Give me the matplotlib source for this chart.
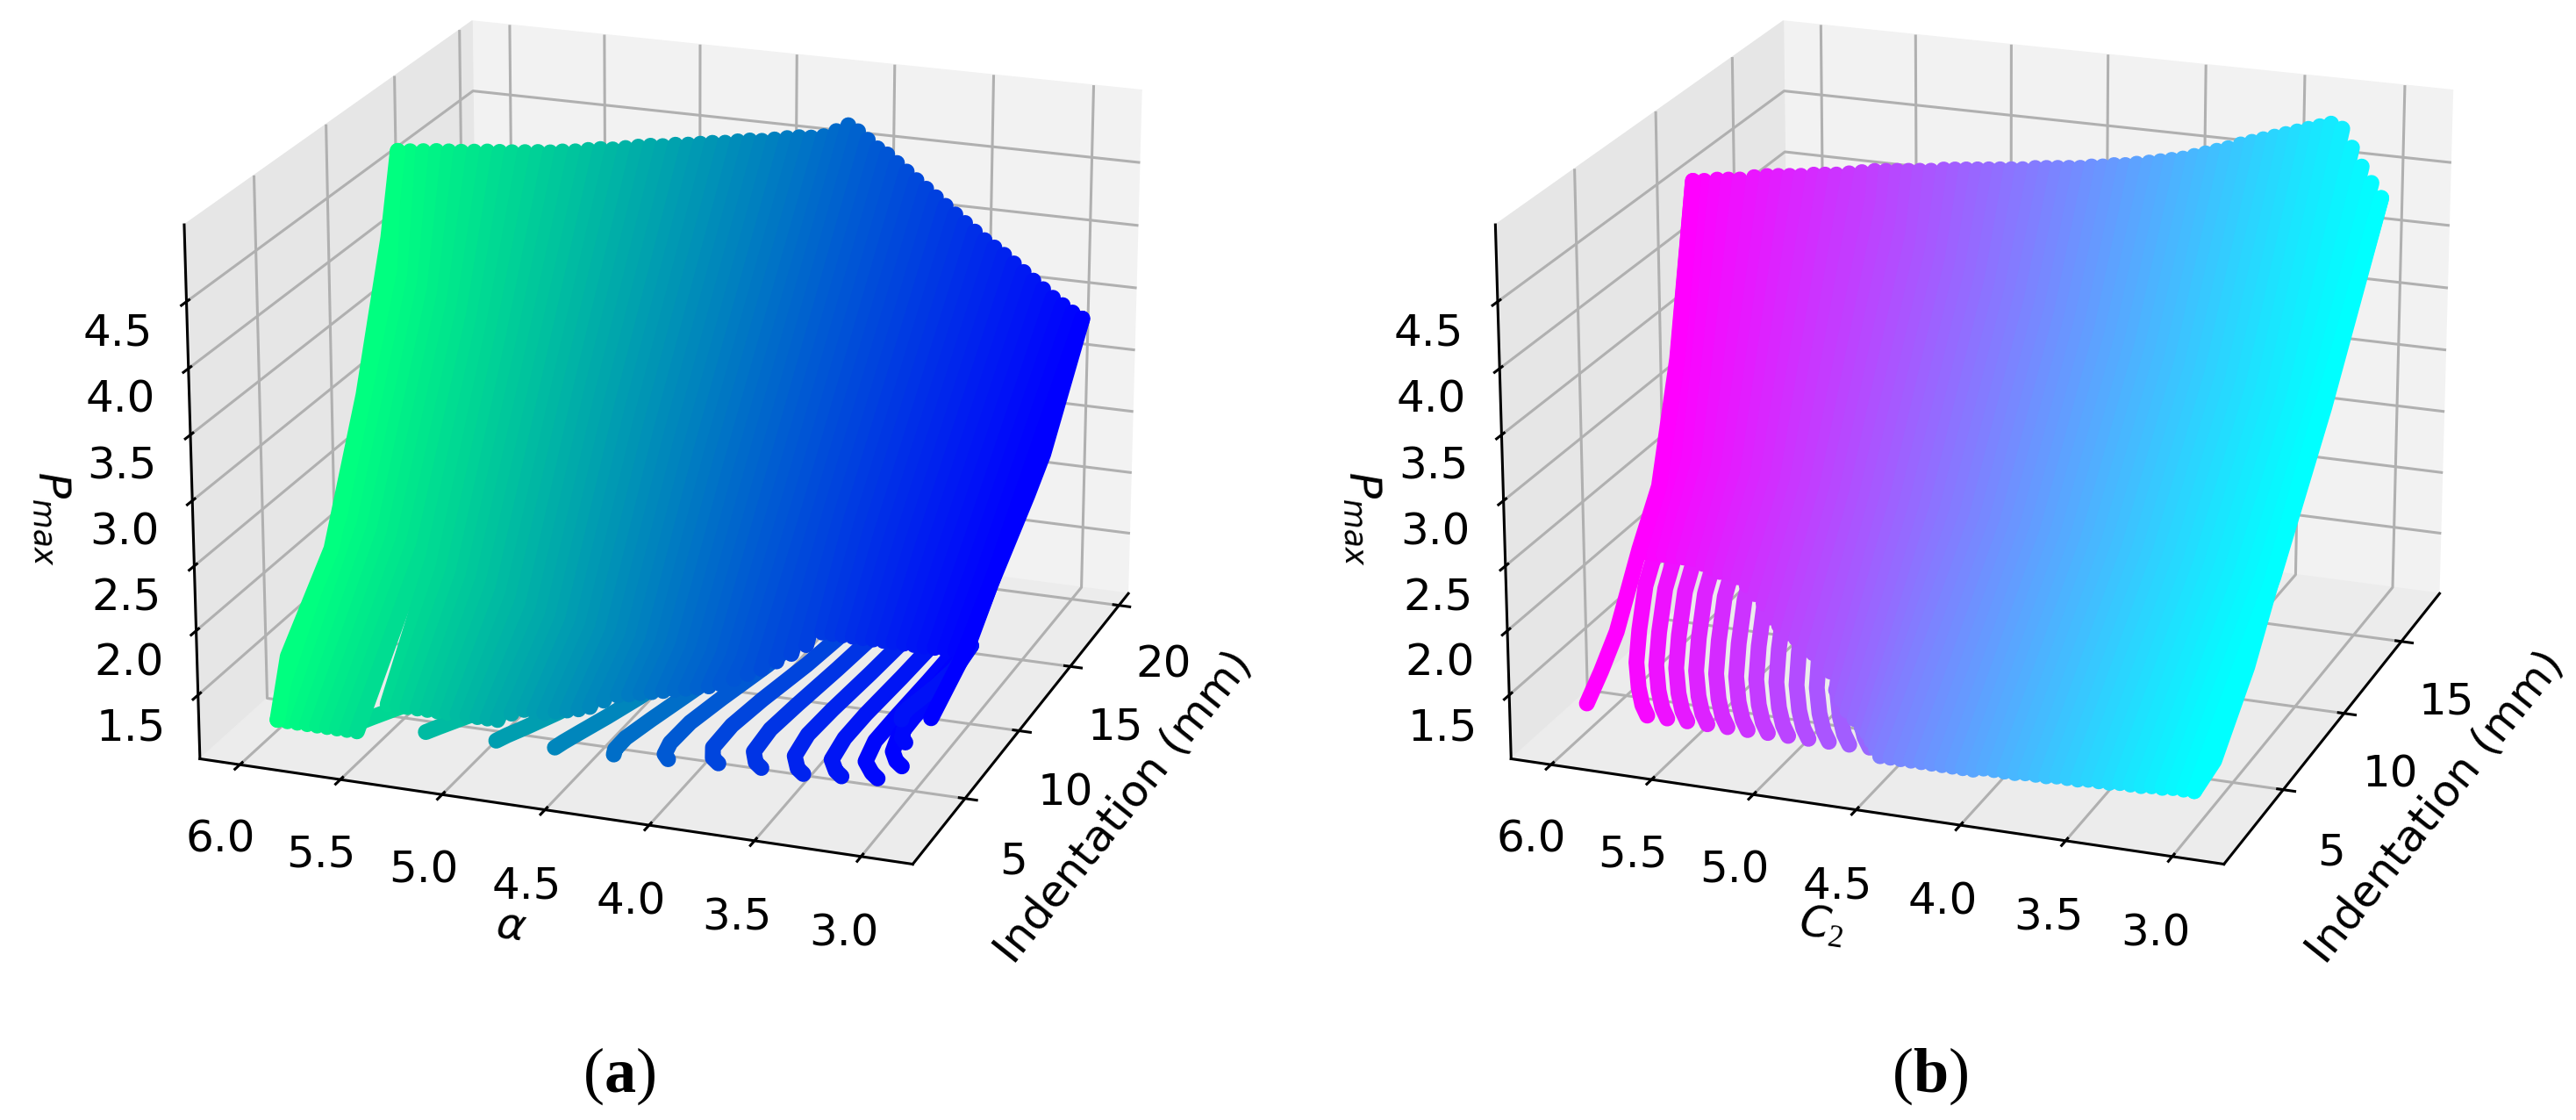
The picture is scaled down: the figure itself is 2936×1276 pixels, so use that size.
import numpy as np
import matplotlib
matplotlib.use('Agg')
import matplotlib.pyplot as plt
from mpl_toolkits.mplot3d import Axes3D

nan = np.nan

# strands, alpha / C2 from 6.0 down to 3.0
strand_vals = [6.0, 5.95, 5.9, 5.85, 5.8, 5.75, 5.7, 5.65, 5.6, 5.55,
               5.5, 5.45, 5.4, 5.35, 5.3, 5.25, 5.2, 5.15, 5.1, 5.05,
               5.0, 4.95, 4.9, 4.85, 4.8, 4.75, 4.7, 4.65, 4.6, 4.55,
               4.5, 4.45, 4.4, 4.35, 4.3, 4.25, 4.2, 4.15, 4.1, 4.05,
               4.0, 3.95, 3.9, 3.85, 3.8, 3.75, 3.7, 3.65, 3.6, 3.55,
               3.5, 3.45, 3.4, 3.35, 3.3, 3.25, 3.2, 3.15, 3.1, 3.05,
               3.0]
mid_x = [8, 12]

# panel a
low_x_a = [3, 3, 3, 3, 3, 3, 3, 3, 3, 4.5,
           4.5, 4.5, 4.5, 4.5, 4.5, 4.5, 4.5, 4.5, 4.5, 4.5,
           4.5, 4.8, 5, 5, 5, 5.1, 5.2, 5.3, 5.4, 5.7,
           6, 6.1, 6.2, 6.3, 6.4, 6.5, 6.6, 6.7, 6.8, 6.9,
           7.2, 7.5, 7.8, 8.2, 8.6, 9, 9.5, 9.5, 9.5, 9.5,
           9.5, 9.5, 9.5, 9.5, 9.5, 9.5, 9.5, 9.5, 9.5, 9.5,
           9.5]
low_p_a = [1.08, 1.08, 1.08, 1.08, 1.08, 1.08, 1.08, 1.08, 1.08, 1.15,
           1.15, 1.15, 1.15, 1.15, 1.15, 1.15, 1.15, 1.15, 1.15, 1.15,
           1.15, 1.18, 1.2, 1.2, 1.2, 1.21, 1.22, 1.23, 1.25, 1.28,
           1.3, 1.31, 1.32, 1.33, 1.34, 1.35, 1.36, 1.37, 1.38, 1.40,
           1.42, 1.44, 1.46, 1.49, 1.52, 1.56, 1.62, 1.62, 1.62, 1.62,
           1.62, 1.62, 1.62, 1.62, 1.62, 1.62, 1.62, 1.62, 1.62, 1.62,
           1.62]
p8_a = [2.20, 2.18, 2.16, 2.14, 2.12, 2.10, 2.08, 2.06, 2.04, 1.97,
        1.90, 1.88, 1.87, 1.85, 1.84, 1.81, 1.78, 1.75, 1.72, 1.68,
        1.65, 1.63, 1.62, 1.61, 1.60, 1.59, 1.58, 1.57, 1.56, 1.55,
        1.55, 1.54, 1.54, 1.53, 1.53, 1.52, 1.52, 1.51, 1.51, 1.50,
        1.50, 1.50, 1.50, nan, nan, nan, nan, nan, nan, nan,
        nan, nan, nan, nan, nan, nan, nan, nan, nan, nan,
        nan]
p12_a = [3.85, 3.81, 3.77, 3.73, 3.69, 3.65, 3.61, 3.57, 3.53, 3.49,
         3.45, 3.41, 3.37, 3.33, 3.29, 3.25, 3.21, 3.17, 3.13, 3.09,
         3.05, 3.01, 2.98, 2.94, 2.91, 2.87, 2.84, 2.80, 2.77, 2.73,
         2.70, 2.67, 2.65, 2.62, 2.59, 2.56, 2.53, 2.50, 2.48, 2.45,
         2.42, 2.40, 2.37, 2.35, 2.33, 2.30, 2.28, 2.25, 2.23, 2.20,
         2.18, 2.16, 2.14, 2.12, 2.10, 2.07, 2.05, 2.02, 2.00, 1.98,
         1.96]
top_x_a = [12.3, 12.5, 12.75, 13, 13.2, 13.4, 13.65, 13.9, 14.1, 14.3,
           14.55, 14.8, 15, 15.2, 15.45, 15.7, 15.9, 16.1, 16.35, 16.6,
           16.8, 17, 17.25, 17.5, 17.7, 17.9, 18.15, 18.4, 18.6, 18.8,
           19.05, 19.3, 19.5, 19.7, 19.95, 20.2, 20.4, 20.4, 20.4, 20.4,
           20.4, 20.4, 20.4, 20.4, 20.4, 20.4, 20.4, 20.4, 20.4, 20.4,
           20.4, 20.4, 20.4, 20.4, 20.4, 20.4, 20.4, 20.4, 20.4, 20.4,
           20.4]
top_p_a = [4.72, 4.71, 4.70, 4.69, 4.68, 4.67, 4.66, 4.65, 4.64, 4.63,
           4.62, 4.61, 4.60, 4.60, 4.59, 4.59, 4.59, 4.58, 4.58, 4.58,
           4.58, 4.57, 4.57, 4.56, 4.56, 4.56, 4.55, 4.55, 4.55, 4.54,
           4.54, 4.54, 4.54, 4.53, 4.53, 4.56, 4.60, 4.56, 4.50, 4.44,
           4.40, 4.34, 4.28, 4.22, 4.16, 4.10, 4.04, 3.98, 3.92, 3.86,
           3.80, 3.75, 3.70, 3.64, 3.58, 3.52, 3.46, 3.40, 3.35, 3.30,
           3.26]
left_x_a = [3, 3.8, 7, 9.5, 11.5, 12.3]
left_p_a = [1.08, 1.5, 2.04, 3.03, 4.1, 4.72]
right_x_a = [6.4, 9.2, 11.7, 15.2, 16.7, 20.4]
right_p_a = [1.42, 1.61, 1.92, 2.31, 2.5, 3.26]

finger_p_a = [1.25, 1.28, 1.32, 1.37, 1.43, 1.52, 1.62]
finger_c_a = [5.53, 5.2, 4.86, 4.58, 4.3, 4.05, 3.82, 3.62, 3.42, 3.25, 3.09, 3.03, 3.1, 3.2]
finger_y_a = [[5.53, 5.48, 5.4, 5.28, 5.16, 5.03, 4.93],
              [5.2, 5.15, 5.07, 4.95, 4.83, 4.7, 4.6],
              [4.86, 4.82, 4.75, 4.65, 4.54, 4.42, 4.32],
              [4.58, 4.55, 4.5, 4.42, 4.33, 4.22, 4.12],
              [4.3, 4.3, 4.28, 4.22, 4.14, 4.03, 3.93],
              [4.05, 4.07, 4.07, 4.04, 3.97, 3.86, 3.76],
              [3.82, 3.85, 3.87, 3.85, 3.79, 3.69, 3.6],
              [3.62, 3.65, 3.68, 3.67, 3.62, 3.54, 3.46],
              [3.42, 3.45, 3.49, 3.49, 3.45, 3.38, 3.31],
              [3.25, 3.28, 3.32, 3.32, 3.29, 3.23, 3.17],
              [3.09, 3.12, 3.17, 3.18, 3.15, 3.1, 3.05],
              [3.03, 3.06, 3.09, 3.1, 3.08, 3.05, 3.0],
              [3.1, 3.12, 3.12, 3.1, 3.07, 3.03, 3.0],
              [3.2, 3.2, 3.18, 3.14, 3.09, 3.03, 3.0]]
finger_x_a = [[2.2, 2.4, 2.8, 3.5, 4.4, 5.6, 7.2],
              [2.2, 2.4, 2.8, 3.5, 4.4, 5.6, 7.2],
              [2.3, 2.5, 2.9, 3.7, 4.7, 6, 7.8],
              [2.4, 2.6, 3, 3.9, 5, 6.5, 8.4],
              [2.5, 2.6, 3.1, 4.1, 5.4, 7, 9],
              [2.7, 2.75, 3.2, 4.3, 5.7, 7.6, 9.8],
              [2.9, 2.95, 3.3, 4.5, 6, 8, 10],
              [3, 3.05, 3.4, 4.6, 6, 8, 10],
              [3, 3.05, 3.5, 4.6, 6, 8, 10],
              [3.2, 3.25, 3.6, 4.7, 6, 8, 10],
              [3.4, 3.45, 3.8, 4.8, 6.2, 8, 10],
              [4.4, 4.45, 4.7, 5.4, 6.6, 8.2, 10],
              [6, 6.05, 6.2, 6.7, 7.5, 8.7, 10],
              [7.5, 7.55, 7.7, 8, 8.5, 9.2, 10]]

# panel b
low_x_b = [6.3, 6.3, 6.3, 6.3, 6.3, 6.3, 6.3, 6.2, 6.1, 6.1,
           6, 5.9, 5.8, 5.7, 5.5, 5.4, 5.3, 5.2, 5.1, 5,
           4.9, 4.8, 4.5, 4.2, 3.9, 3.7, 3.5, 3.2, 2.8, 2.4,
           2, 2, 2, 2, 2, 2, 2, 2, 2, 2,
           2, 2, 2, 2, 2, 2, 2, 2, 2, 2,
           2, 2, 2, 2, 2, 2, 2, 2, 2, 2,
           2]
low_p_b = [2.0, 2.0, 2.0, 2.0, 2.0, 2.0, 1.97, 1.96, 1.95, 1.95,
           1.94, 1.9, 1.85, 1.8, 1.72, 1.68, 1.64, 1.62, 1.58, 1.55,
           1.5, 1.45, 1.35, 1.32, 1.28, 1.25, 1.22, 1.22, 1.22, 1.22,
           1.22, 1.22, 1.22, 1.22, 1.22, 1.22, 1.22, 1.22, 1.22, 1.22,
           1.24, 1.24, 1.24, 1.24, 1.25, 1.25, 1.25, 1.26, 1.26, 1.26,
           1.27, 1.27, 1.27, 1.28, 1.28, 1.28, 1.29, 1.29, 1.3, 1.3,
           1.3]
p8_b = [2.60, 2.59, 2.58, 2.57, 2.56, 2.55, 2.54, 2.54, 2.53, 2.53,
        2.52, 2.52, 2.51, 2.51, 2.50, 2.50, 2.49, 2.49, 2.48, 2.48,
        2.47, 2.47, 2.46, 2.46, 2.45, 2.45, 2.44, 2.44, 2.43, 2.43,
        2.42, 2.42, 2.41, 2.41, 2.40, 2.40, 2.39, 2.39, 2.38, 2.38,
        2.37, 2.37, 2.36, 2.36, 2.35, 2.34, 2.33, 2.33, 2.32, 2.32,
        2.31, 2.30, 2.29, 2.29, 2.28, 2.28, 2.27, 2.27, 2.26, 2.26,
        2.25]
p12_b = [nan, nan, nan, nan, nan, nan, nan, nan, nan, nan,
         nan, nan, nan, nan, nan, 4.4, 4.34, 4.27, 4.2, 4.12,
         4.05, 4.02, 3.99, 3.96, 3.93, 3.90, 3.87, 3.84, 3.81, 3.78,
         3.76, 3.73, 3.70, 3.67, 3.65, 3.62, 3.60, 3.57, 3.55, 3.52,
         3.50, 3.48, 3.46, 3.44, 3.42, 3.40, 3.38, 3.36, 3.34, 3.32,
         3.30, 3.28, 3.26, 3.24, 3.23, 3.21, 3.20, 3.18, 3.17, 3.16,
         3.15]
top_x_b = [9.8, 9.9, 10.1, 10.2, 10.3, 10.6, 10.8, 10.9, 11, 11.1,
           11.3, 11.4, 11.5, 11.7, 11.9, 12.1, 12.2, 12.3, 12.4, 12.5,
           12.6, 12.8, 12.9, 13, 13.1, 13.2, 13.3, 13.4, 13.5, 13.7,
           13.8, 13.9, 14, 14.1, 14.2, 14.3, 14.4, 14.5, 14.6, 14.8,
           14.9, 15, 15.1, 15.2, 15.3, 15.4, 15.5, 15.7, 15.8, 15.9,
           16, 16.1, 16.2, 16.3, 16.4, 16.5, 16.6, 16.6, 16.6, 16.6,
           16.6]
top_p_b = [4.58, 4.58, 4.58, 4.58, 4.58, 4.58, 4.58, 4.58, 4.58, 4.58,
           4.58, 4.58, 4.58, 4.58, 4.58, 4.58, 4.58, 4.58, 4.58, 4.58,
           4.58, 4.58, 4.58, 4.58, 4.58, 4.58, 4.58, 4.58, 4.58, 4.58,
           4.58, 4.58, 4.58, 4.58, 4.59, 4.59, 4.60, 4.60, 4.61, 4.61,
           4.62, 4.63, 4.64, 4.66, 4.68, 4.70, 4.72, 4.74, 4.76, 4.78,
           4.80, 4.82, 4.84, 4.86, 4.88, 4.90, 4.86, 4.72, 4.58, 4.46,
           4.35]
left_x_b = [2.6, 3.5, 4.5, 6.0, 7.3, 8.6, 9.8]
left_p_b = [1.22, 1.37, 1.57, 2.06, 2.42, 3.3, 4.58]
right_x_b = [2, 3.5, 6, 10, 13, 15, 16.6]
right_p_b = [1.3, 1.35, 1.78, 2.76, 3.45, 3.95, 4.35]

finger_p_b = [1.22, 1.27, 1.35, 1.48, 1.65, 1.9, 2.3, 2.8]
finger_x_b = [2.4, 2.6, 3.0, 3.5, 4.2, 5.0, 6.5, 7.8]
finger_c_b = [5.9, 5.8, 5.7, 5.6, 5.5, 5.4, 5.3, 5.2, 5.1, 5.0, 4.9, 4.8]
finger_y_b = [[5.68, 5.72, 5.77, 5.82, 5.86, 5.89, 5.9, 5.9],
              [5.58, 5.62, 5.67, 5.72, 5.76, 5.79, 5.8, 5.8],
              [5.48, 5.52, 5.57, 5.62, 5.66, 5.69, 5.7, 5.7],
              [5.38, 5.42, 5.47, 5.52, 5.56, 5.59, 5.6, 5.6],
              [5.28, 5.32, 5.37, 5.42, 5.46, 5.49, 5.5, 5.5],
              [5.18, 5.22, 5.27, 5.32, 5.36, 5.39, 5.4, 5.4],
              [5.08, 5.12, 5.17, 5.22, 5.26, 5.29, 5.3, 5.3],
              [4.98, 5.02, 5.07, 5.12, 5.16, 5.19, 5.2, 5.2],
              [4.88, 4.92, 4.97, 5.02, 5.06, 5.09, 5.1, 5.1],
              [4.78, 4.82, 4.87, 4.92, 4.96, 4.99, 5.0, 5.0],
              [4.68, 4.72, 4.77, 4.82, 4.86, 4.89, 4.9, 4.9],
              [4.58, 4.62, 4.67, 4.72, 4.76, 4.79, 4.8, 4.8]]

alpha_ticks = [3.0, 3.5, 4.0, 4.5, 5.0, 5.5, 6.0]
p_ticks = [1.5, 2.0, 2.5, 3.0, 3.5, 4.0, 4.5]

plt.rcParams['axes.linewidth'] = 2.2
plt.rcParams['grid.linewidth'] = 2.2
plt.rcParams['xtick.major.width'] = 2.2
plt.rcParams['ytick.major.width'] = 2.2
plt.rcParams['mathtext.fontset'] = 'custom'
plt.rcParams['mathtext.rm'] = 'Liberation Serif'
plt.rcParams['mathtext.bf'] = 'Liberation Serif:bold'
plt.rcParams['mathtext.it'] = 'DejaVu Sans:italic'

fig = plt.figure(figsize=(29.36, 12.76), dpi=100)


def draw_panel(rect, cmap, low_x, low_p, p8, p12, top_x, top_p, left, right,
               f_c, f_y, f_x, f_p, xlim, xticks, ylabel):
    ax = fig.add_axes(rect, projection='3d')
    ax.view_init(elev=20, azim=200)
    ax.set_box_aspect((4, 4, 3), zoom=1.02)
    ax.xaxis.set_pane_color((0.95, 0.95, 0.95, 1.0))
    ax.yaxis.set_pane_color((0.90, 0.90, 0.90, 1.0))
    ax.zaxis.set_pane_color((0.925, 0.925, 0.925, 1.0))
    colors = plt.get_cmap(cmap)
    for c, ys, xs in zip(f_c, f_y, f_x):
        ax.plot(xs, ys, f_p, color=colors((c - 3) / 3), lw=13,
                solid_capstyle='round', solid_joinstyle='round')
    for i, c in enumerate(strand_vals):
        xs = [low_x[i]] + list(mid_x) + [top_x[i]]
        ps = [low_p[i], p8[i], p12[i], top_p[i]]
        xs = [u for u, v in zip(xs, ps) if not np.isnan(v)]
        ps = [v for v in ps if not np.isnan(v)]
        ax.plot(xs, [c] * len(xs), ps, color=colors((c - 3) / 3), lw=13,
                solid_capstyle='round', solid_joinstyle='round')
    # outer strands carry the silhouette
    ax.plot(left[0], [6.0] * len(left[0]), left[1], color=colors(1.0), lw=13,
            solid_capstyle='round', solid_joinstyle='round')
    ax.plot(right[0], [3.0] * len(right[0]), right[1], color=colors(0.0), lw=13,
            solid_capstyle='round', solid_joinstyle='round')
    ax.set_xlim(xlim)
    ax.set_ylim(2.76, 6.2)
    ax.set_zlim(1.0, 5.07)
    ax.set_xticks(xticks)
    ax.set_yticks(alpha_ticks)
    ax.set_zticks(p_ticks)
    ax.tick_params(labelsize=36, pad=24)
    ax.set_xlabel('Indentation (mm)', fontsize=36, labelpad=46)
    ax.set_ylabel(ylabel, fontsize=36, labelpad=46)
    ax.set_zlabel(r'$P_{max}$', fontsize=36, labelpad=45)
    return ax


draw_panel([0.008, 0.113, 0.5, 1.0], 'winter', low_x_a, low_p_a, p8_a, p12_a, top_x_a, top_p_a,
           (left_x_a, left_p_a), (right_x_a, right_p_a),
           finger_c_a, finger_y_a, finger_x_a, finger_p_a, (0.4, 21), [5, 10, 15, 20], r'$\alpha$')
draw_panel([0.517, 0.113, 0.5, 1.0], 'cool', low_x_b, low_p_b, p8_b, p12_b, top_x_b, top_p_b,
           (left_x_b, left_p_b), (right_x_b, right_p_b),
           finger_c_b, finger_y_b, [finger_x_b] * len(finger_c_b), finger_p_b, (0.4, 18.5), [5, 10, 15], r'$C_2$')

fig.text(706 / 2936, 1 - 1226 / 1276, r'($\mathbf{a}$)', family='Liberation Serif', fontsize=52, ha='center', va='center')
fig.text(2200 / 2936, 1 - 1226 / 1276, r'($\mathbf{b}$)', family='Liberation Serif', fontsize=52, ha='center', va='center')

fig.savefig('out.png', dpi=100)
